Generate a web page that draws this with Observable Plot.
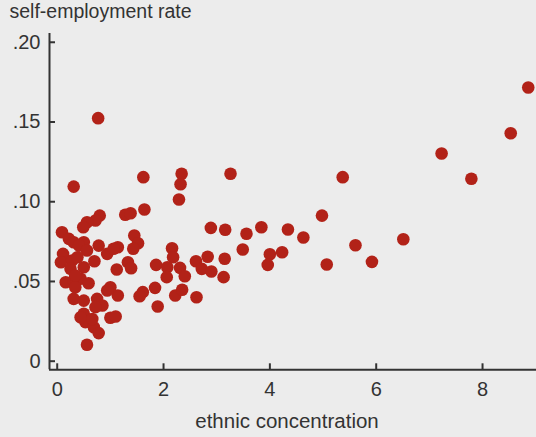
<!DOCTYPE html>
<html>
<head>
<meta charset="utf-8">
<script src="https://cdn.jsdelivr.net/npm/d3@7"></script>
<script src="https://cdn.jsdelivr.net/npm/@observablehq/plot@0.6"></script>
<style>
  html, body { margin: 0; padding: 0; background: #ececec; }
  #chart svg { display: block; background: #ececec; }
</style>
</head>
<body>
<div id="chart"></div>
<script>
// ethnic concentration (x)
const concentration = [
  8.86, 8.53, 7.23, 5.37, 7.79, 5.61, 6.51, 5.92,
  2.34, 2.32, 2.29, 3.26, 4.98, 2.89, 3.16, 3.56, 3.84, 4.34, 4.63,
  3.49, 4.00, 4.23, 3.96, 5.07, 2.16, 2.18, 1.86, 2.07, 2.06, 2.31,
  2.40, 2.61, 2.72, 2.83, 2.90, 3.15, 3.13, 1.84, 2.22, 2.35, 2.62, 1.89,
  0.77, 0.31, 1.62, 1.64, 1.28, 1.38, 1.45, 1.52, 1.43, 1.14, 1.33, 1.39,
  1.12, 1.61, 1.55, 1.14, 0.80, 0.72, 0.56, 0.49, 0.09, 0.22, 0.31, 0.50,
  0.41, 0.56, 0.78, 0.94, 1.06, 0.11, 0.07, 0.28, 0.38, 0.50, 0.70,
  0.16, 0.31, 0.44, 0.59, 0.34, 1.00, 0.94, 0.31, 0.50, 0.75, 0.85,
  0.72, 0.50, 0.53, 0.69, 0.78, 1.00, 1.10, 0.56, 0.44, 0.25, 0.34, 0.66
];
// self-employment rate (y)
const selfEmployment = [
  0.1716, 0.1429, 0.1302, 0.1154, 0.1144, 0.0727, 0.0765, 0.0623,
  0.1175, 0.1110, 0.1014, 0.1175, 0.0913, 0.0836, 0.0824, 0.0799, 0.0840, 0.0826, 0.0776,
  0.0700, 0.0671, 0.0683, 0.0604, 0.0606, 0.0708, 0.0652, 0.0604, 0.0589, 0.0527, 0.0585,
  0.0533, 0.0627, 0.0579, 0.0655, 0.0562, 0.0642, 0.0527, 0.0460, 0.0412, 0.0448, 0.0401, 0.0343,
  0.1524, 0.1095, 0.1154, 0.0951, 0.0918, 0.0928, 0.0788, 0.0740, 0.0705, 0.0715, 0.0620, 0.0583,
  0.0575, 0.0433, 0.0407, 0.0412, 0.0913, 0.0882, 0.0871, 0.0840, 0.0809, 0.0767, 0.0746, 0.0746,
  0.0725, 0.0694, 0.0725, 0.0673, 0.0705, 0.0673, 0.0620, 0.0631, 0.0652, 0.0589, 0.0627,
  0.0495, 0.0506, 0.0517, 0.0489, 0.0464, 0.0464, 0.0443, 0.0391, 0.0380, 0.0391, 0.0349,
  0.0339, 0.0297, 0.0245, 0.0213, 0.0176, 0.0272, 0.0280, 0.0103, 0.0276, 0.0580, 0.0537, 0.0265
];

const xTicks = [0, 2, 4, 6, 8];
const xTickLabels = ["0", "2", "4", "6", "8"];
const yTicks = [0, 0.05, 0.10, 0.15, 0.20];
const yTickLabels = ["0", ".05", ".10", ".15", ".20"];
const xTitle = "ethnic concentration";
const yTitle = "self-employment rate";
const xDomain = [-0.145, 9.015];
const yDomain = [-0.0054, 0.2055];

const data = concentration.map((c, i) => ({c, s: selfEmployment[i]}));

const ink = "#333333";
const font = "Liberation Sans, Arial, sans-serif";

const chart = Plot.plot({
  width: 536,
  height: 437,
  marginLeft: 49,
  marginRight: 0,
  marginTop: 33,
  marginBottom: 67.7,
  style: {background: "#ececec", fontFamily: font, fontSize: "20px", color: ink},
  x: {domain: xDomain},
  y: {domain: yDomain},
  marks: [
    Plot.dot(data, {x: "c", y: "s", r: 6.3, fill: "#b22218", stroke: "none"}),
    Plot.ruleX([xDomain[0]], {stroke: ink, strokeWidth: 2}),
    Plot.ruleY([yDomain[0]], {stroke: ink, strokeWidth: 2}),
    Plot.axisY({
      ticks: yTicks,
      tickSize: -6,
      tickPadding: 15,
      strokeWidth: 2,
      stroke: ink,
      fill: ink,
      tickFormat: d => yTickLabels[yTicks.findIndex(t => Math.abs(t - d) < 1e-9)],
      label: null,
      fontSize: 20
    }),
    Plot.axisX({
      ticks: xTicks,
      tickSize: -6,
      tickPadding: 18,
      strokeWidth: 2,
      stroke: ink,
      fill: ink,
      tickFormat: d => xTickLabels[xTicks.indexOf(d)],
      label: null,
      fontSize: 20
    }),
    Plot.text([yTitle], {
      frameAnchor: "top-left", textAnchor: "start", lineAnchor: "middle",
      dx: -40, dy: -22, fill: ink, fontSize: 19.5
    }),
    Plot.text([xTitle], {
      frameAnchor: "bottom", textAnchor: "middle", lineAnchor: "middle",
      dx: -6, dy: 52, fill: ink, fontSize: 20.5
    })
  ]
});

document.getElementById("chart").appendChild(chart);
</script>
</body>
</html>
